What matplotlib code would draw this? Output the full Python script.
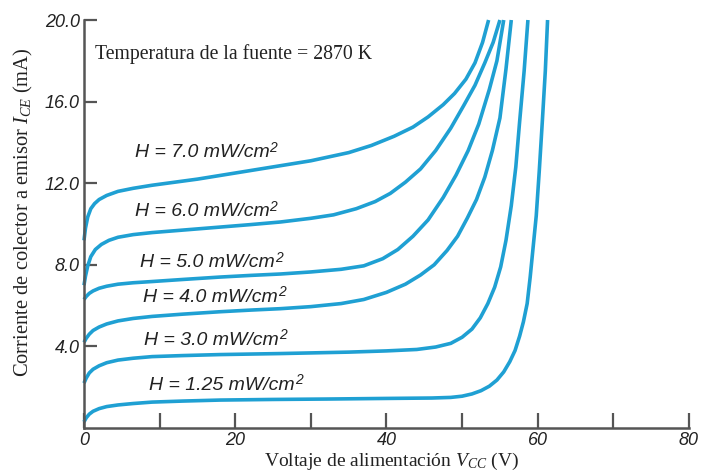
import matplotlib
matplotlib.use("Agg")
import matplotlib.pyplot as plt
from matplotlib.ticker import FixedLocator, FixedFormatter

plt.rcParams["mathtext.fontset"] = "custom"
plt.rcParams["mathtext.rm"] = "Liberation Serif"
plt.rcParams["mathtext.it"] = "Liberation Serif:italic"

# Collector current vs supply voltage for several irradiance levels H (mW/cm^2)
h_levels = ["7.0", "6.0", "5.0", "4.0", "3.0", "1.25"]

vcc_h70 = [0, 0.2, 0.5, 0.9, 1.4, 2, 3, 4.5, 6.5, 9, 12, 15, 20, 25, 30, 35, 38, 41,
           43.5, 45.5, 47.5, 49, 50.5, 51.7, 52.7, 53.5]
ice_h70 = [9.2, 9.8, 10.35, 10.75, 11.0, 11.2, 11.4, 11.6, 11.75, 11.9, 12.05, 12.2, 12.5,
           12.8, 13.1, 13.5, 13.85, 14.3, 14.75, 15.25, 15.85, 16.4, 17.1, 17.9, 18.9, 20.0]

vcc_h60 = [0, 0.2, 0.5, 0.9, 1.5, 2.3, 3.3, 4.5, 6.5, 9, 13, 18, 22, 26, 30, 33, 36,
           38.5, 40.5, 42.5, 44.5, 46.5, 48.5, 50.2, 51.7, 53, 54.1, 55.0]
ice_h60 = [7.0, 7.45, 7.95, 8.4, 8.75, 9.0, 9.2, 9.35, 9.48, 9.58, 9.7, 9.85, 9.97, 10.1,
           10.28, 10.45, 10.75, 11.1, 11.5, 12.05, 12.7, 13.6, 14.7, 15.8, 16.8, 17.9, 18.9, 20.0]

vcc_h50 = [0, 0.3, 0.7, 1.2, 2, 3, 4.5, 6.5, 9, 13, 18, 22, 26, 30, 34, 37, 39.5, 41.5,
           43.5, 45.5, 47.5, 49.2, 50.8, 52.2, 53.6, 54.6, 55.5]
ice_h50 = [6.3, 6.45, 6.6, 6.72, 6.85, 6.95, 7.05, 7.12, 7.18, 7.28, 7.4, 7.48, 7.55, 7.65,
           7.78, 7.95, 8.3, 8.75, 9.4, 10.2, 11.3, 12.4, 13.6, 14.9, 16.6, 18.0, 20.0]

vcc_h40 = [0, 0.3, 0.7, 1.2, 2, 3, 4.5, 6.5, 9, 13, 18, 22, 26, 30, 34, 37, 40, 42.5,
           44.5, 46.3, 48, 49.4, 50.7, 51.9, 53, 54, 55, 55.8, 56.5]
ice_h40 = [4.2, 4.4, 4.6, 4.78, 4.95, 5.1, 5.25, 5.37, 5.47, 5.58, 5.7, 5.78, 5.85, 5.95,
           6.1, 6.3, 6.65, 7.05, 7.5, 8.0, 8.7, 9.4, 10.3, 11.2, 12.3, 13.6, 15.2, 17.6, 20.0]

vcc_h30 = [0, 0.3, 0.7, 1.2, 2, 3, 4.5, 6.5, 9, 13, 18, 26, 35, 40, 44, 46.5, 48.5, 50,
           51.3, 52.4, 53.4, 54.3, 55.1, 55.8, 56.5, 57.1, 57.6, 58.2, 58.7]
ice_h30 = [2.2, 2.45, 2.7, 2.88, 3.05, 3.2, 3.33, 3.42, 3.5, 3.55, 3.6, 3.65, 3.72, 3.78,
           3.85, 3.97, 4.15, 4.45, 4.85, 5.4, 6.1, 6.9, 7.9, 9.2, 10.9, 12.8, 15.0, 17.5, 20.0]

vcc_h125 = [0, 0.3, 0.7, 1.2, 2, 3, 4.5, 6.5, 9, 13, 18, 25, 32, 40, 46, 48.5, 50, 51.3,
            52.5, 53.6, 54.6, 55.5, 56.3, 57.0, 57.6, 58.1, 58.6, 59.0, 59.4, 59.8, 60.2,
            60.6, 61.0, 61.3]
ice_h125 = [0.3, 0.5, 0.68, 0.82, 0.95, 1.05, 1.13, 1.2, 1.27, 1.32, 1.37, 1.4, 1.42,
            1.45, 1.47, 1.5, 1.56, 1.67, 1.83, 2.05, 2.35, 2.75, 3.25, 3.8, 4.5, 5.2, 6.1,
            7.4, 8.9, 10.4, 12.6, 15.0, 17.5, 20.0]

curves = [
    (vcc_h70, ice_h70),
    (vcc_h60, ice_h60),
    (vcc_h50, ice_h50),
    (vcc_h40, ice_h40),
    (vcc_h30, ice_h30),
    (vcc_h125, ice_h125),
]

# label anchor (left, centre) for each curve's caption
label_x = [6.7, 6.7, 7.4, 7.8, 8.0, 8.6]
label_y = [13.5, 10.6, 8.1, 6.4, 4.3, 2.1]

x_ticks = [0, 10, 20, 30, 40, 50, 60, 70, 80]
x_tick_labels = ["0", "", "20", "", "40", "", "60", "", "80"]
y_ticks = [4, 8, 12, 16, 20]
y_tick_labels = ["4.0", "8.0", "12.0", "16.0", "20.0"]

line_color = "#1fa0d3"
axis_color = "#555555"
text_color = "#222222"

fig = plt.figure(figsize=(7.04, 4.72), dpi=100)
ax = fig.add_axes([0.1193, 0.0932, 0.8594, 0.8644])

for vcc, ice in curves:
    ax.plot(vcc, ice, color=line_color, lw=2.6, solid_capstyle="butt",
            solid_joinstyle="round", clip_on=False)

ax.set_xlim(0, 80)
ax.set_ylim(0, 20)

for side in ("top", "right"):
    ax.spines[side].set_visible(False)
for side in ("left", "bottom"):
    ax.spines[side].set_color(axis_color)
    ax.spines[side].set_linewidth(1.8)

ax.xaxis.set_major_locator(FixedLocator(x_ticks))
ax.xaxis.set_major_formatter(FixedFormatter(x_tick_labels))
ax.yaxis.set_major_locator(FixedLocator(y_ticks))
ax.yaxis.set_major_formatter(FixedFormatter(y_tick_labels))

ax.tick_params(axis="x", direction="in", length=11, width=1.6, color=axis_color, pad=3)
ax.tick_params(axis="y", direction="in", length=9, width=1.6, color=axis_color, pad=3)
for lbl in ax.get_xticklabels() + ax.get_yticklabels():
    lbl.set_fontfamily("Liberation Sans")
    lbl.set_fontstyle("italic")
    lbl.set_fontsize(13)
    lbl.set_color(text_color)

ax.set_xlabel("Voltaje de alimentación $V_{CC}$ (V)", family="Liberation Serif",
              fontsize=14, color=text_color)
ax.xaxis.set_label_coords(0.509, -0.056)
ax.set_ylabel("Corriente de colector a emisor $I_{CE}$ (mA)", family="Liberation Serif",
              fontsize=14.8, color=text_color, va="center")
ax.yaxis.set_label_coords(-0.1, 0.53)

ax.text(1.4, 18.33, "Temperatura de la fuente = 2870 K", family="Liberation Serif",
        fontsize=14.2, color=text_color, va="center", ha="left")

for h, lx, ly in zip(h_levels, label_x, label_y):
    t = ax.text(lx, ly, f"H = {h} mW/cm", family="Liberation Sans", style="italic",
                fontsize=14, color=text_color, va="center", ha="left")
    ax.annotate("2", xy=(1.0, 0.8), xycoords=t, family="Liberation Sans",
                style="italic", fontsize=10, color=text_color, va="center", ha="left")

fig.savefig("out.png", dpi=100, facecolor="white")
